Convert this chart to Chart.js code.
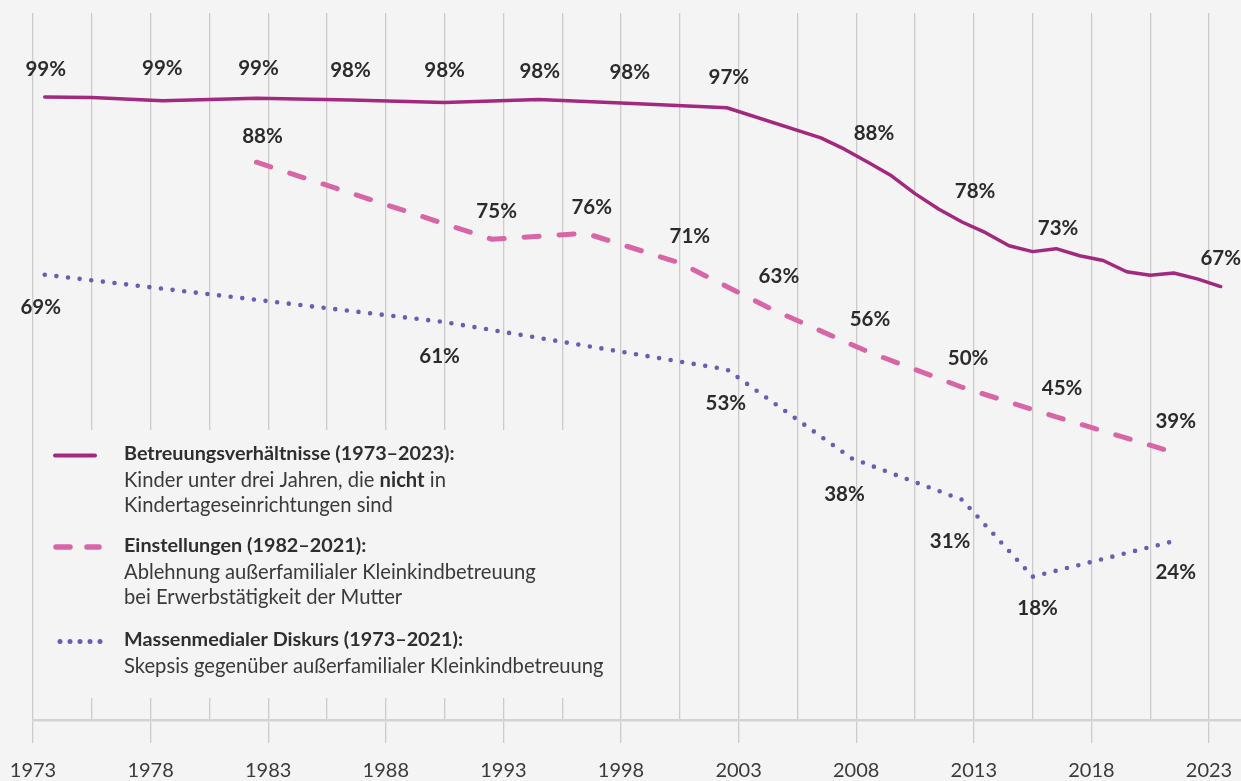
<!DOCTYPE html>
<html>
<head>
<meta charset="utf-8">
<script src="https://cdn.jsdelivr.net/npm/chart.js@4.4.1/dist/chart.umd.min.js"></script>
<style>
  html, body { margin: 0; padding: 0; background: #f4f4f4; overflow: hidden; }
  #wrap { width: 1241px; height: 781px; position: relative; }
</style>
</head>
<body>
<div id="wrap"><canvas id="c"></canvas></div>
<script>
// ---- Data (years plotted at mid-year) ----
const solidYears  = [1973.5,1975.5,1978.5,1982.5,1986.5,1990.5,1994.5,1998.5,2002.5,2006.5,2007.5,2008.5,2009.5,2010.5,2011.5,2012.5,2013.5,2014.5,2015.5,2016.5,2017.5,2018.5,2019.5,2020.5,2021.5,2022.5,2023.5];
const solidValues = [99.0,98.95,98.4,98.8,98.5,98.1,98.6,97.9,97.2,92.1,90.2,88.0,85.7,82.7,80.1,77.9,76.1,73.9,72.9,73.4,72.2,71.4,69.5,68.9,69.3,68.3,67.0];

const dashedYears  = [1982.5,1992.5,1996.5,2000.5,2004.5,2008.5,2012.5,2016.5,2021.5];
const dashedValues = [88,75,76,71,63,56,50,45,39];

const dottedYears  = [1973.5,1990.5,2002.5,2007.8,2012.5,2015.5,2021.5];
const dottedValues = [69,61,53,38,31,18,24];

// value labels: index into series + text
const solidLabelIdx  = [0,2,3,4,5,6,7,8,11,15,19,26];
const solidLabelText = ['99%','99%','99%','98%','98%','98%','98%','97%','88%','78%','73%','67%'];
const dashedLabelIdx  = [0,1,2,3,4,5,6,7,8];
const dashedLabelText = ['88%','75%','76%','71%','63%','56%','50%','45%','39%'];
const dottedLabelIdx  = [0,1,2,3,4,5,6];
const dottedLabelText = ['69%','61%','53%','38%','31%','18%','24%'];

// axis ticks
const gridYears  = [1973,1975.5,1978,1980.5,1983,1985.5,1988,1990.5,1993,1995.5,1998,2000.5,2003,2005.5,2008,2010.5,2013,2015.5,2018,2020.5,2023];
const tickLabels = ['1973','1978','1983','1988','1993','1998','2003','2008','2013','2018','2023'];

// legend texts
const legendTitles = ['Betreuungsverhältnisse (1973–2023):','Einstellungen (1982–2021):','Massenmedialer Diskurs (1973–2021):'];

// ---- Styles / placement (kept separate from data) ----
const COLORS = { solid:'#a3297f', dashed:'#d865a6', dotted:'#6d5cb6', text:'#2b2b2b', grid:'#cbcbcb', bg:'#f4f4f4' };
const solidLabelOff  = [[1,-28],[0,-32],[2,-30],[0,-30],[0,-32],[1,-28],[-3,-31],[2,-30],[6,-29],[13,-31],[2,-20],[0,-28]];
const dashedLabelOff = [[6,-26],[5,-28],[6,-26],[10,-26],[5,-34],[2,-32],[6,-29],[6,-28],[2,-31]];
const dottedLabelOff = [[-4,33],[-5,34],[-1,34],[-7,36],[-12,42],[5,32],[2,31]];

const toXY = (xs, ys) => xs.map((x, i) => ({ x: x, y: ys[i] }));

const labelsPlugin = {
  id: 'valueLabels',
  afterDatasetsDraw(chart) {
    const ctx = chart.ctx, sx = chart.scales.x, sy = chart.scales.y;
    ctx.save();
    ctx.font = 'bold 20.5px Lato';
    ctx.fillStyle = COLORS.text;
    ctx.textAlign = 'center';
    ctx.textBaseline = 'middle';
    const draw = (xs, ys, idx, txt, off) => {
      idx.forEach((k, i) => {
        const px = sx.getPixelForValue(xs[k]) + off[i][0];
        const py = sy.getPixelForValue(ys[k]) + off[i][1];
        ctx.fillText(txt[i], px, py);
      });
    };
    draw(solidYears, solidValues, solidLabelIdx, solidLabelText, solidLabelOff);
    draw(dashedYears, dashedValues, dashedLabelIdx, dashedLabelText, dashedLabelOff);
    draw(dottedYears, dottedValues, dottedLabelIdx, dottedLabelText, dottedLabelOff);
    ctx.restore();
  }
};

const legendPlugin = {
  id: 'customLegend',
  beforeDatasetsDraw(chart) {
    const ctx = chart.ctx;
    ctx.save();
    ctx.fillStyle = COLORS.bg;
    ctx.fillRect(36, 430, 576, 268);
    // samples
    ctx.lineCap = 'round';
    ctx.strokeStyle = COLORS.solid; ctx.lineWidth = 4;
    ctx.beginPath(); ctx.moveTo(55, 455.5); ctx.lineTo(95, 455.5); ctx.stroke();
    ctx.strokeStyle = COLORS.dashed; ctx.lineWidth = 5.5;
    ctx.beginPath(); ctx.moveTo(56, 547); ctx.lineTo(70, 547); ctx.moveTo(87, 547); ctx.lineTo(99, 547); ctx.stroke();
    ctx.fillStyle = COLORS.dotted;
    for (let i = 0; i < 5; i++) { ctx.beginPath(); ctx.arc(60 + i * 10, 641.5, 2.5, 0, Math.PI * 2); ctx.fill(); }
    // texts
    ctx.textAlign = 'left'; ctx.textBaseline = 'middle';
    ctx.fillStyle = '#2e2e2e';
    const X = 124;
    const F = 19.8, FR = 20.2;
    ctx.font = 'bold ' + F + 'px Lato';
    ctx.fillText(legendTitles[0], X, 454);
    ctx.fillText(legendTitles[1], X, 546);
    ctx.fillText(legendTitles[2], X, 640);
    ctx.fillStyle = '#3a3a3a';
    ctx.font = FR + 'px Lato';
    const a = 'Kinder unter drei Jahren, die ';
    ctx.fillText(a, X, 480);
    let w = ctx.measureText(a).width;
    ctx.font = 'bold ' + FR + 'px Lato';
    ctx.fillStyle = '#2e2e2e';
    ctx.fillText('nicht', X + w, 480);
    w += ctx.measureText('nicht').width;
    ctx.font = FR + 'px Lato';
    ctx.fillStyle = '#3a3a3a';
    ctx.fillText(' in', X + w, 480);
    ctx.fillText('Kindertageseinrichtungen sind', X, 505);
    ctx.fillText('Ablehnung außerfamilialer Kleinkindbetreuung', X, 572);
    ctx.fillText('bei Erwerbstätigkeit der Mutter', X, 597);
    ctx.fillText('Skepsis gegenüber außerfamilialer Kleinkindbetreuung', X, 666);
    ctx.restore();
  }
};

const isMajor = v => Math.abs(((v - 1973) % 5)) < 1e-6;

new Chart(document.getElementById('c'), {
  type: 'line',
  data: {
    datasets: [
      { data: toXY(solidYears, solidValues), borderColor: COLORS.solid, borderWidth: 3.5, pointRadius: 0, tension: 0, borderJoinStyle: 'round', borderCapStyle: 'round' },
      { data: toXY(dashedYears, dashedValues), borderColor: COLORS.dashed, borderWidth: 5, pointRadius: 0, tension: 0, borderDash: [15, 20], borderCapStyle: 'round', borderJoinStyle: 'round' },
      { data: toXY(dottedYears, dottedValues), borderColor: COLORS.dotted, borderWidth: 4.6, pointRadius: 0, tension: 0, borderDash: [0, 11.7], borderCapStyle: 'round', borderJoinStyle: 'round' }
    ]
  },
  options: {
    responsive: true,
    maintainAspectRatio: false,
    animation: false,
    layout: { padding: { top: 13, left: 33, right: 0, bottom: 0 } },
    plugins: { legend: { display: false }, tooltip: { enabled: false } },
    scales: {
      x: {
        type: 'linear',
        min: 1973,
        max: 2024.36,
        afterBuildTicks: s => { s.ticks = gridYears.map(v => ({ value: v })); },
        afterFit: s => { s.height = 61; s.paddingLeft = 0; s.paddingRight = 0; },
        ticks: {
          autoSkip: false,
          maxRotation: 0,
          padding: 18,
          color: '#3a3a3a',
          font: { family: 'Lato', size: 20, lineHeight: 1 },
          callback: v => {
            if (!isMajor(v)) return '';
            return tickLabels[Math.round((v - 1973) / 5)];
          }
        },
        grid: {
          color: COLORS.grid,
          lineWidth: 1.3,
          tickLength: 23,
          tickColor: c => (c.tick && isMajor(c.tick.value)) ? COLORS.grid : 'rgba(0,0,0,0)',
          tickWidth: 1.3
        },
        border: { display: true, color: '#d3d3d3', width: 2.5 }
      },
      y: {
        display: false,
        min: -6.2,
        max: 113.2
      }
    }
  },
  plugins: [legendPlugin, labelsPlugin]
});
</script>
</body>
</html>
